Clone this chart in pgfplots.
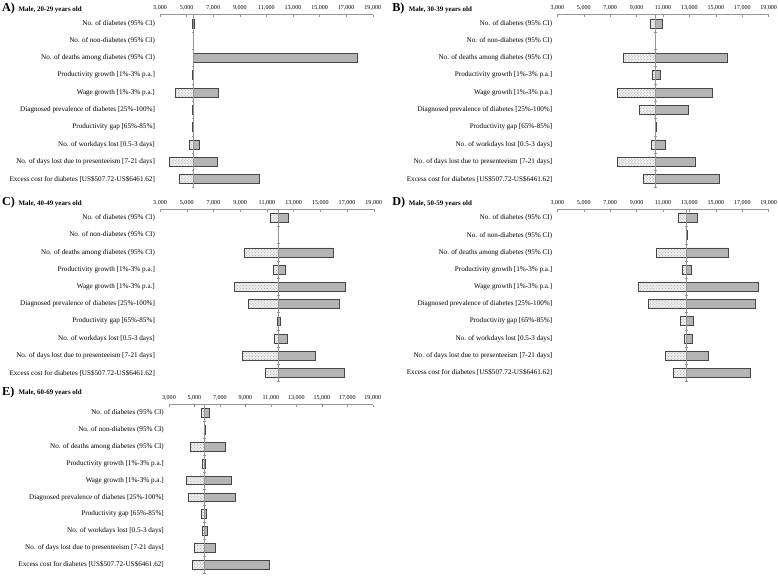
\documentclass[border=0pt]{standalone}
\usepackage{fontspec}
\setmainfont{Liberation Serif}
\usepackage{pgfplots}
\usepackage{pgfplotstable}
\pgfplotsset{compat=1.18}
\usetikzlibrary{patterns,calc}

\definecolor{barGray}{RGB}{180,180,180}
\definecolor{edgeGray}{RGB}{70,70,70}
\definecolor{axGray}{RGB}{150,150,150}

\pgfplotstableread{
i lo hi
1 5420 5560
2 5470 5510
3 5490 17830
4 5460 5520
5 4170 7360
6 5460 5530
7 5460 5520
8 5220 5920
9 3670 7280
10 4470 10480
}\dataA
\pgfplotstableread{
i lo hi
1 10000 10950
2 10390 10450
3 8010 15840
4 10190 10770
5 7520 14760
6 9220 12880
7 10390 10460
8 10120 11200
9 7520 13460
10 9520 15270
}\dataB
\pgfplotstableread{
i lo hi
1 11260 12600
2 11830 11890
3 9320 15950
4 11460 12400
5 8530 16890
6 9620 16390
7 11760 12020
8 11560 12550
9 9180 14630
10 10910 16820
}\dataC
\pgfplotstableread{
i lo hi
1 12150 13610
2 12740 12820
3 10470 15910
4 12450 13130
5 9120 18200
6 9870 18020
7 12280 13310
8 12580 13180
9 11160 14440
10 11800 17600
}\dataD
\pgfplotstableread{
i lo hi
1 5520 6130
2 5770 5830
3 4700 7450
4 5630 5890
5 4330 7900
6 4510 8210
7 5570 5930
8 5630 5990
9 5020 6620
10 4820 10860
}\dataE

\pgfplotsset{
  tor/.style={
    scale only axis, anchor=north west,
    xbar stacked, bar width=0.52,
    xmin=3000, xmax=19000, ymin=0.5, ymax=10.5, y dir=reverse,
    axis x line*=top, axis y line*=left,
    y axis line style={draw=none},
    x axis line style={draw=axGray, line width=0.6bp},
    xtick={3000,5000,...,19000}, scaled x ticks=false,
    tick align=inside, major tick length=2.5bp,
    xtick style={draw=axGray, line width=0.5bp},
    ytick={1,...,10}, ytick style={draw=none},
    yticklabels={{No. of diabetes (95\% CI)},{No. of non-diabetes (95\% CI)},{No. of deaths among diabetes (95\% CI)},{Productivity growth [1\%-3\% p.a.]},{Wage growth [1\%-3\% p.a.]},{Diagnosed prevalence of diabetes [25\%-100\%]},{Productivity gap [65\%-85\%]},{No. of workdays lost [0.5-3 days]},{No. of days lost due to presenteeism [7-21 days]},{Excess cost for diabetes [US\$507.72-US\$6461.62]}},
    /pgf/number format/assume math mode=true,
    /pgf/number format/1000 sep={,},
    xticklabel style={font=\fontsize{6.1}{7}\selectfont, inner sep=1bp, yshift=3bp},
    yticklabel style={font=\fontsize{7.2}{8}\selectfont, inner sep=0pt, xshift=-5bp},
  },
  dotbar/.style={draw=edgeGray, line width=0.6bp, fill=gray!12, postaction={pattern=crosshatch dots, pattern color=gray!75}},
  graybar/.style={draw=edgeGray, line width=0.6bp, fill=barGray},
}

\newcommand{\tornado}[2]{%
  \addplot[sharp plot, stack plots=false, draw=axGray, line width=0.5bp, mark=-, mark size=1.2bp, mark options={draw=axGray}] coordinates {(#2,0.5) (#2,1.5) (#2,2.5) (#2,3.5) (#2,4.5) (#2,5.5) (#2,6.5) (#2,7.5) (#2,8.5) (#2,9.5) (#2,10.5)};
  \addplot[draw=none, fill=none] table[x=lo, y=i] {#1};
  \addplot[dotbar] table[x expr=#2-\thisrow{lo}, y=i] {#1};
  \addplot[graybar] table[x expr=\thisrow{hi}-#2, y=i] {#1};
}

\newcommand{\ptitle}[3]{%
  \node[anchor=base west, inner sep=0pt, font=\bfseries\fontsize{12.3}{12.5}\selectfont] at (#1) {#2};
  \node[anchor=base west, inner sep=0pt, font=\bfseries\fontsize{7}{8}\selectfont] at ($(#1)+(16.5bp,0.3bp)$) {#3};
}

\begin{document}
\begin{tikzpicture}
\path (0,0) rectangle (778bp,-580bp);

\ptitle{2bp,-11.7bp}{A)}{Male, 20-29 years old}
\ptitle{394.5bp,-11.7bp}{B)}{Male, 30-39 years old}
\ptitle{2bp,-207.2bp}{C)}{Male, 40-49 years old}
\ptitle{394.5bp,-207.2bp}{D)}{Male, 50-59 years old}
\ptitle{2bp,-397.5bp}{E)}{Male, 60-69 years old}

\begin{axis}[tor, at={(161bp,-14.8bp)}, width=214bp, height=174bp]
\tornado{\dataA}{5490}
\end{axis}

\begin{axis}[tor, at={(560.7bp,-14.8bp)}, width=212.6bp, height=174bp]
\tornado{\dataB}{10420}
\end{axis}

\begin{axis}[tor, at={(161bp,-210.5bp)}, width=215bp, height=173.4bp]
\tornado{\dataC}{11860}
\end{axis}

\begin{axis}[tor, at={(560.7bp,-210.7bp)}, width=212.6bp, height=173bp]
\tornado{\dataD}{12780}
\end{axis}

\begin{axis}[tor, at={(170bp,-407bp)}, width=205bp, height=169.5bp]
\tornado{\dataE}{5800}
\end{axis}
\end{tikzpicture}
\end{document}
